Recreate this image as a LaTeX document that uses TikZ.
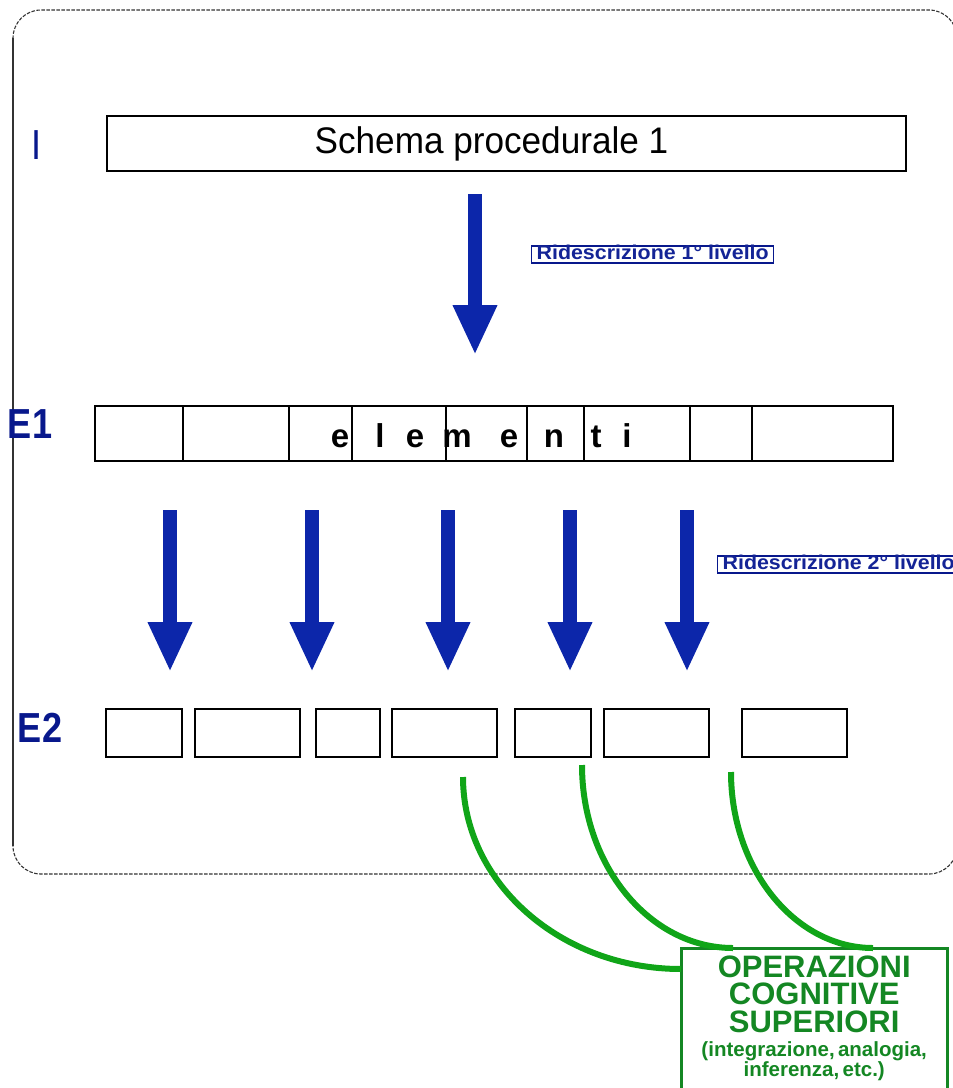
\documentclass[tikz,border=0pt]{standalone}
\usepackage{fontspec}
\setmainfont{Liberation Sans}
\newfontfamily\narrowfont[FakeStretch=0.95]{Liberation Sans}
\newfontfamily\lvlfont[FakeStretch=0.86]{Liberation Sans}
\newfontfamily\ridefont[FakeStretch=1.07]{Liberation Sans}
\usetikzlibrary{arrows.meta}
\definecolor{arrowblue}{RGB}{12,38,170}
\definecolor{lvlblue}{RGB}{8,24,140}
\definecolor{rideblue}{RGB}{20,36,150}
\definecolor{curvegreen}{RGB}{16,165,24}
\definecolor{opsgreen}{RGB}{20,135,35}
\tikzset{
  cell/.style={draw, line width=1.4pt, inner sep=0pt},
  lvl/.style={text=lvlblue, font=\lvlfont\bfseries\fontsize{42}{42}\selectfont, inner sep=0pt},
  letter/.style={font=\bfseries\fontsize{33}{33}\selectfont, inner sep=0pt},
  ridebox/.style={draw=lvlblue, line width=1.2pt, text=rideblue, inner xsep=5pt, inner ysep=0pt,
    text height=13pt, text depth=4pt, anchor=base west, font=\ridefont\bfseries\fontsize{20}{20}\selectfont},
  bigarrow/.style={arrowblue, line width=14pt, -{Triangle[length=50pt,width=41pt]}},
  greenline/.style={curvegreen, line width=6pt},
}
\begin{document}
\begin{tikzpicture}[x=1pt,y=-1pt]
  \useasboundingbox (0,0) rectangle (953,1088);
  \clip (0,0) rectangle (953,1088);
  % frame
  \draw [black!80, line width=1.1pt, dash pattern=on 3.5pt off 1.5pt, rounded corners=28pt] (13,10) rectangle (957,874);
  \draw [black!80, line width=1.1pt] (13,38) -- (13,846);
  % level I
  \node [lvl, font=\lvlfont\fontsize{42}{42}\selectfont] (lvlI) at (37,145) {I};
  \node [cell, minimum width=799, minimum height=55, font=\narrowfont\fontsize{37}{37}\selectfont] (schema) at (506.5,143.5) {Schema procedurale 1\hspace*{30pt}};
  \coordinate (a0s) at (475,194);
  \coordinate (a0e) at (475,355);
  \draw [bigarrow] (a0s) -- (a0e);
  \node [ridebox] (ride1) at (531,259) {Ridescrizione 1° livello};
  % level E1
  \node [lvl] (lvlE1) at (30,424) {E1};
  \foreach \a/\b [count=\i] in {95/183,183/289,289/352,352/446,446/527,527/584,584/690,690/752,752/893}
    \node [cell, minimum width=\b-\a, minimum height=55] (e1-\i) at ({(\a+\b)/2},433.5) {};
  \foreach \x/\c in {340/e,380/l,415/e,457/m,509/e,554/n,596/t,627/i}
    \node [letter, anchor=base] (ch\x) at (\x,447) {\c};
  \foreach \x in {170,312,448,570,687} {
    \coordinate (a\x s) at (\x,510);
    \coordinate (a\x e) at (\x,672);
    \draw [bigarrow] (a\x s) -- (a\x e);
  }
  \node [ridebox] (ride2) at (717,569) {Ridescrizione 2° livello};
  % level E2
  \node [lvl] (lvlE2) at (40,728) {E2};
  \foreach \a/\b [count=\i] in {106/182,195/300,316/380,392/497,515/591,604/709,742/847}
    \node [cell, minimum width=\b-\a, minimum height=48] (e2-\i) at ({(\a+\b)/2},733) {};
  % operazioni cognitive
  \node [text=opsgreen, anchor=north west, text width=258pt, align=center,
    inner xsep=4pt, inner ysep=7.4pt, font=\bfseries] (ops) at (681,948)
    {\fontsize{31}{27.5}\selectfont OPERAZIONI\\COGNITIVE\\SUPERIORI\\
     \fontsize{20.5}{24.5}\selectfont (integrazione, analogia,\\inferenza, etc.)};
  \draw [opsgreen, line width=3pt] (ops.north west) rectangle ([yshift=-20pt]ops.south east);
  \coordinate (g1) at (463,777);
  \coordinate (g2) at (582,765);
  \coordinate (g3) at (731,772);
  \coordinate (o1) at ([yshift=-21pt]ops.north west);
  \coordinate (o2) at ([xshift=52pt]ops.north west);
  \coordinate (o3) at ([xshift=192pt]ops.north west);
  \draw [greenline] (g1) .. controls +(0,106) and +(-120,0) .. (o1);
  \draw [greenline] (g2) .. controls +(0,101) and +(-83,0) .. (o2);
  \draw [greenline] (g3) .. controls +(0,97) and +(-78,0) .. (o3);
\end{tikzpicture}
\end{document}
